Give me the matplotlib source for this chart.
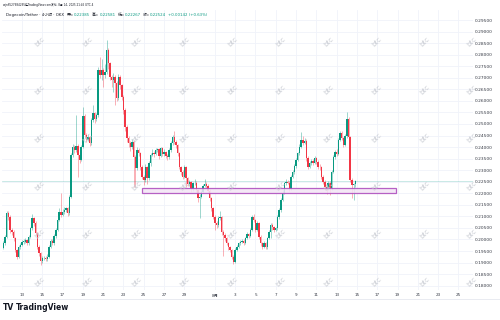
"""DOGE/USDT 4h candles in the TradingView snapshot style."""

import matplotlib
matplotlib.use("Agg")
import matplotlib.dates as mdates
import matplotlib.pyplot as plt
import numpy as np
import pandas as pd
from matplotlib.patches import Rectangle


BAR_START = "2025-07-11 04:00"
FIRST_OPEN = 0.1965

CLOSE = [
    0.1983, 0.2012, 0.2116, 0.2099, 0.2041, 0.2034, 0.2005, 0.1954, 0.1926, 0.1969,
    0.1976, 0.1990, 0.1990, 0.1998, 0.1983, 0.2012, 0.2048, 0.2091, 0.2070, 0.2027,
    0.1969, 0.1940, 0.1908, 0.1918, 0.1921, 0.1914, 0.1925, 0.1969, 0.1995, 0.1983,
    0.2015, 0.2041, 0.2084, 0.2120, 0.2106, 0.2120, 0.2128, 0.2135, 0.2113, 0.2185,
    0.2366, 0.2402, 0.2387, 0.2405, 0.2366, 0.2344, 0.2402, 0.2534, 0.2452, 0.2431,
    0.2445, 0.2416, 0.2517, 0.2546, 0.2520, 0.2539, 0.2734, 0.2712, 0.2734, 0.2712,
    0.2727, 0.2820, 0.2763, 0.2705, 0.2690, 0.2705, 0.2676, 0.2611, 0.2705, 0.2669,
    0.2618, 0.2560, 0.2488, 0.2438, 0.2416, 0.2402, 0.2423, 0.2358, 0.2308, 0.2387,
    0.2373, 0.2315, 0.2272, 0.2257, 0.2315, 0.2265, 0.2329, 0.2366, 0.2376, 0.2370,
    0.2387, 0.2390, 0.2361, 0.2394, 0.2370, 0.2380, 0.2361, 0.2355, 0.2387, 0.2416,
    0.2442, 0.2423, 0.2409, 0.2373, 0.2315, 0.2293, 0.2272, 0.2315, 0.2265, 0.2240,
    0.2250, 0.2217, 0.2243, 0.2246, 0.2214, 0.2178, 0.2185, 0.2207, 0.2231, 0.2240,
    0.2231, 0.2211, 0.2178, 0.2135, 0.2099, 0.2070, 0.2063, 0.2091, 0.2096, 0.2034,
    0.2019, 0.2005, 0.1983, 0.1966, 0.1954, 0.1926, 0.1904, 0.1954, 0.1969, 0.1983,
    0.1990, 0.1995, 0.1986, 0.2005, 0.2024, 0.2015, 0.2041, 0.2099, 0.2084, 0.2041,
    0.2070, 0.2012, 0.1983, 0.1969, 0.1983, 0.1966, 0.2005, 0.2034, 0.2063, 0.2052,
    0.2041, 0.2048, 0.2099, 0.2127, 0.2171, 0.2203, 0.2243, 0.2250, 0.2246, 0.2217,
    0.2272, 0.2293, 0.2318, 0.2344, 0.2373, 0.2402, 0.2431, 0.2419, 0.2428, 0.2351,
    0.2315, 0.2329, 0.2341, 0.2332, 0.2351, 0.2337, 0.2315, 0.2312, 0.2272, 0.2250,
    0.2228, 0.2221, 0.2246, 0.2221, 0.2293, 0.2358, 0.2380, 0.2370, 0.2431, 0.2462,
    0.2438, 0.2409, 0.2448, 0.2520, 0.2445, 0.2257, 0.2235, 0.22385, 0.22524,
]

HIGH = [
    0.1992, 0.2020, 0.2125, 0.2122, 0.2105, 0.2050, 0.2040, 0.2010, 0.1960, 0.1975,
    0.1985, 0.1998, 0.2000, 0.2008, 0.2003, 0.2020, 0.2055, 0.2110, 0.2098, 0.2078,
    0.2032, 0.1975, 0.1945, 0.1928, 0.1930, 0.1928, 0.1935, 0.1978, 0.2003, 0.2000,
    0.2022, 0.2050, 0.2092, 0.2135, 0.2200, 0.2130, 0.2140, 0.2142, 0.2140, 0.2192,
    0.2375, 0.2412, 0.2410, 0.2539, 0.2412, 0.2372, 0.2410, 0.2572, 0.2545, 0.2460,
    0.2455, 0.2450, 0.2525, 0.2580, 0.2552, 0.2548, 0.2745, 0.2790, 0.2783, 0.2742,
    0.2760, 0.2863, 0.2830, 0.2770, 0.2712, 0.2720, 0.2712, 0.2685, 0.2715, 0.2712,
    0.2675, 0.2625, 0.2570, 0.2495, 0.2450, 0.2425, 0.2435, 0.2430, 0.2365, 0.2400,
    0.2395, 0.2380, 0.2322, 0.2280, 0.2325, 0.2320, 0.2338, 0.2375, 0.2390, 0.2385,
    0.2395, 0.2398, 0.2396, 0.2402, 0.2400, 0.2390, 0.2385, 0.2368, 0.2395, 0.2425,
    0.2452, 0.2470, 0.2430, 0.2415, 0.2380, 0.2320, 0.2300, 0.2322, 0.2320, 0.2270,
    0.2258, 0.2255, 0.2250, 0.2262, 0.2252, 0.2220, 0.2195, 0.2215, 0.2240, 0.2262,
    0.2248, 0.2238, 0.2218, 0.2182, 0.2140, 0.2105, 0.2080, 0.2100, 0.2125, 0.2100,
    0.2040, 0.2028, 0.2010, 0.1990, 0.1972, 0.1960, 0.1932, 0.1962, 0.1975, 0.1990,
    0.1998, 0.2003, 0.2002, 0.2012, 0.2032, 0.2030, 0.2048, 0.2108, 0.2110, 0.2090,
    0.2080, 0.2075, 0.2018, 0.1990, 0.1992, 0.1990, 0.2012, 0.2042, 0.2070, 0.2072,
    0.2058, 0.2055, 0.2108, 0.2135, 0.2180, 0.2212, 0.2250, 0.2262, 0.2258, 0.2252,
    0.2280, 0.2302, 0.2325, 0.2352, 0.2380, 0.2412, 0.2467, 0.2450, 0.2440, 0.2435,
    0.2360, 0.2338, 0.2350, 0.2350, 0.2360, 0.2358, 0.2342, 0.2325, 0.2318, 0.2280,
    0.2258, 0.2235, 0.2255, 0.2252, 0.2300, 0.2365, 0.2388, 0.2390, 0.2440, 0.2470,
    0.2468, 0.2442, 0.2455, 0.2553, 0.2528, 0.2450, 0.2265, 0.2245, 0.22581,
]

LOW = [
    0.1958, 0.1975, 0.2005, 0.2085, 0.2030, 0.2020, 0.1995, 0.1945, 0.1915, 0.1920,
    0.1960, 0.1970, 0.1982, 0.1985, 0.1975, 0.1978, 0.2005, 0.2040, 0.2060, 0.2018,
    0.1960, 0.1930, 0.1890, 0.1900, 0.1910, 0.1905, 0.1908, 0.1920, 0.1962, 0.1975,
    0.1978, 0.2008, 0.2035, 0.2078, 0.2098, 0.2100, 0.2112, 0.2120, 0.2100, 0.2108,
    0.2180, 0.2355, 0.2375, 0.2380, 0.2272, 0.2330, 0.2338, 0.2395, 0.2440, 0.2420,
    0.2425, 0.2405, 0.2410, 0.2510, 0.2505, 0.2512, 0.2530, 0.2700, 0.2690, 0.2660,
    0.2700, 0.2715, 0.2740, 0.2690, 0.2660, 0.2640, 0.2582, 0.2600, 0.2605, 0.2650,
    0.2605, 0.2545, 0.2470, 0.2420, 0.2400, 0.2385, 0.2390, 0.2229, 0.2229, 0.2300,
    0.2360, 0.2300, 0.2260, 0.2235, 0.2250, 0.2242, 0.2258, 0.2320, 0.2360, 0.2358,
    0.2365, 0.2378, 0.2350, 0.2355, 0.2360, 0.2362, 0.2352, 0.2345, 0.2350, 0.2380,
    0.2410, 0.2415, 0.2398, 0.2362, 0.2305, 0.2280, 0.2262, 0.2265, 0.2228, 0.2230,
    0.2232, 0.2205, 0.2210, 0.2235, 0.2205, 0.2160, 0.2091, 0.2178, 0.2200, 0.2225,
    0.2222, 0.2200, 0.2165, 0.2125, 0.2088, 0.2041, 0.2050, 0.2055, 0.2085, 0.2020,
    0.1930, 0.1995, 0.1975, 0.1955, 0.1945, 0.1915, 0.1892, 0.1898, 0.1948, 0.1962,
    0.1978, 0.1985, 0.1978, 0.1980, 0.2000, 0.2008, 0.2010, 0.2035, 0.2075, 0.2032,
    0.2035, 0.2000, 0.1972, 0.1960, 0.1962, 0.1958, 0.1960, 0.2000, 0.2005, 0.2042,
    0.2032, 0.2035, 0.2040, 0.2090, 0.2120, 0.2165, 0.2195, 0.2235, 0.2238, 0.2208,
    0.2212, 0.2265, 0.2285, 0.2310, 0.2338, 0.2365, 0.2395, 0.2410, 0.2412, 0.2340,
    0.2305, 0.2308, 0.2322, 0.2322, 0.2325, 0.2328, 0.2305, 0.2300, 0.2262, 0.2240,
    0.2215, 0.2195, 0.2215, 0.2193, 0.2215, 0.2288, 0.2350, 0.2360, 0.2365, 0.2425,
    0.2430, 0.2400, 0.2405, 0.2440, 0.2438, 0.2250, 0.2179, 0.2172, 0.22267,
]

PRICE_TICKS = [
    0.180, 0.185, 0.190, 0.195, 0.200, 0.205, 0.210, 0.215, 0.220, 0.225, 0.230, 0.235,
    0.240, 0.245, 0.250, 0.255, 0.260, 0.265, 0.270, 0.275, 0.280, 0.285, 0.290, 0.295,
]
DATE_TICKS = [
    "2025-07-13", "2025-07-15", "2025-07-17", "2025-07-19", "2025-07-21", "2025-07-23",
    "2025-07-25", "2025-07-27", "2025-07-29", "2025-08-01", "2025-08-03", "2025-08-05",
    "2025-08-07", "2025-08-09", "2025-08-11", "2025-08-13", "2025-08-15", "2025-08-17",
    "2025-08-19", "2025-08-21", "2025-08-23", "2025-08-25",
]
DATE_LABELS = [
    "13", "15", "17", "19", "21", "23", "25", "27", "29", "8月", "3", "5",
    "7", "9", "11", "13", "15", "17", "19", "21", "23", "25",
]

HEADER = "wjn6527684295在TradingView.com发布, 8月 14, 2025 21:45 UTC-4"
LEGEND_PARTS = [
    ("Dogecoin/Tether · 4小时 · OKX", "dark", 3),
    ("开=", "dark", 0), ("0.22385", "up", 2),
    ("高=", "dark", 0), ("0.22581", "up", 2),
    ("低=", "dark", 0), ("0.22267", "up", 2),
    ("收=", "dark", 0), ("0.22524", "up", 2),
    ("+0.00142 (+0.63%)", "up", 0),
]

ZONE_LOW, ZONE_HIGH = 0.2203, 0.2223
ZONE_START, ZONE_END = "2025-07-24 20:00", "2025-08-18 20:00"
X_RANGE = ("2025-07-11 00:45", "2025-08-26 10:20")
Y_RANGE = (0.17812, 0.29933)

UP = "#089981"
DOWN = "#f23645"
DARK = "#131722"
GRID = "#f0f3fa"

plt.rcParams["font.family"] = ["DejaVu Sans", "Noto Sans CJK SC"]

times = pd.date_range(BAR_START, periods=len(CLOSE), freq="4h")
x = mdates.date2num(times)
close = np.array(CLOSE)
opens = np.array([FIRST_OPEN] + CLOSE[:-1])
high = np.array(HIGH)
low = np.array(LOW)
colors = np.where(close >= opens, UP, DOWN)

fig = plt.figure(figsize=(5, 3.2), dpi=100, facecolor="white")
ax = fig.add_axes([2 / 500, 30 / 320, 471 / 500, 280 / 320])
ax.set_facecolor("white")

ax.vlines(x, low, high, colors=colors, linewidth=0.5, alpha=0.55, zorder=2)
ax.bar(x, np.maximum(np.abs(close - opens), 0.00015), bottom=np.minimum(close, opens),
       width=0.14, color=colors, linewidth=0, zorder=3)

ax.axhline(close[-1], color="#26a69a", linewidth=0.5, alpha=0.35, zorder=1)

z0, z1 = mdates.date2num(pd.to_datetime([ZONE_START, ZONE_END]))
ax.add_patch(Rectangle((z0, ZONE_LOW), z1 - z0, ZONE_HIGH - ZONE_LOW,
                       facecolor="#f3e5f5", edgecolor="#ab47bc", linewidth=0.9,
                       alpha=0.85, zorder=4))

ax.set_xlim(mdates.date2num(pd.to_datetime(list(X_RANGE))))
ax.set_ylim(*Y_RANGE)

ax.set_yticks(PRICE_TICKS)
ax.set_yticklabels([f"{p:.5f}" for p in PRICE_TICKS])
ax.yaxis.tick_right()
ax.set_xticks(mdates.date2num(pd.to_datetime(DATE_TICKS)))
ax.set_xticklabels(DATE_LABELS)
ax.tick_params(axis="y", length=0, pad=1.5, labelsize=3.2, labelcolor="#363a45")
ax.tick_params(axis="x", length=0, pad=2.5, labelsize=3.0, labelcolor="#363a45")
ax.grid(True, color=GRID, linewidth=0.6, zorder=0)
ax.set_axisbelow(True)
for spine in ax.spines.values():
    spine.set_visible(False)

# "btc" watermark tiles
for wy in [42, 90, 138, 186, 234, 282]:
    for wx in [40, 88, 137, 185, 233, 281, 329, 377, 425, 472]:
        fig.text(wx / 500, 1 - wy / 320, "btc", rotation=45, fontsize=5,
                 color="#c9ccd3", ha="center", va="center", zorder=1)

fig.text(3 / 500, 1 - 5 / 320, HEADER, fontsize=2.0, color=DARK, va="center")

# legend row: place each piece right after the previous one
renderer = fig.canvas.get_renderer()
px = 6
for txt, kind, gap in LEGEND_PARTS:
    t = fig.text(px / 500, 1 - 15 / 320, txt, fontsize=2.8,
                 color=UP if kind == "up" else DARK, va="center")
    px = t.get_window_extent(renderer).x1 + gap

fig.add_artist(plt.Line2D([0, 1], [1 - 299 / 320] * 2, color="#e0e3eb", linewidth=0.5))
fig.text(3 / 500, 1 - 308 / 320, "TV", fontsize=5.5, fontweight="bold", color=DARK,
         va="center")
fig.text(16 / 500, 1 - 308 / 320, "TradingView", fontsize=5.5, fontweight="bold",
         color=DARK, va="center")

fig.savefig("out.png", dpi=100, facecolor="white")
